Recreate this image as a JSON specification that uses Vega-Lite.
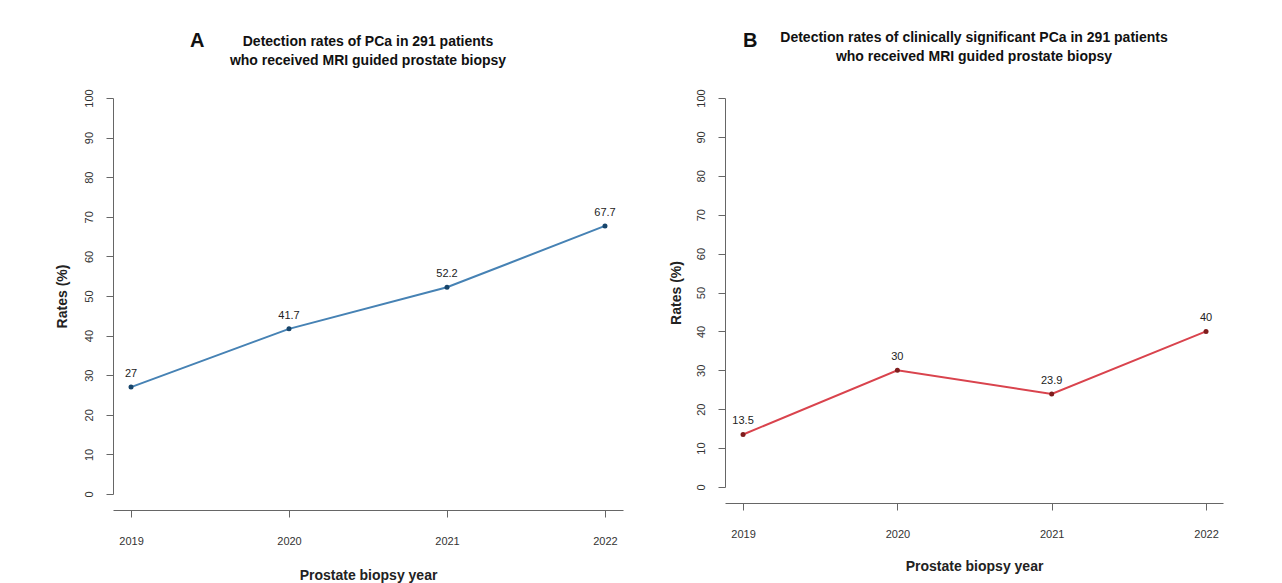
{
  "$schema": "https://vega.github.io/schema/vega-lite/v6.json",
  "autosize": {"type": "none"},
  "padding": {"left": 113, "top": 98, "right": 1169, "bottom": 485},
  "background": "white",
  "spacing": 46,
  "config": {
    "font": "Liberation Sans",
    "view": {"stroke": null},
    "axis": {
      "grid": false,
      "domainColor": "#666",
      "tickColor": "#666",
      "tickSize": 7,
      "labelColor": "#333",
      "labelFont": "Liberation Sans",
      "labelFontSize": 11,
      "labelOverlap": false,
      "titleFont": "Liberation Sans",
      "titleColor": "#222",
      "titleFontSize": 14
    }
  },
  "datasets": {
    "a": [
      {"year": 2019, "rate": 27, "label": "27"},
      {"year": 2020, "rate": 41.7, "label": "41.7"},
      {"year": 2021, "rate": 52.2, "label": "52.2"},
      {"year": 2022, "rate": 67.7, "label": "67.7"}
    ],
    "b": [
      {"year": 2019, "rate": 13.5, "label": "13.5"},
      {"year": 2020, "rate": 30, "label": "30"},
      {"year": 2021, "rate": 23.9, "label": "23.9"},
      {"year": 2022, "rate": 40, "label": "40"}
    ],
    "legA": [{"text": "EAPC +32.4%; 95% CI +25.8 to +39.7, p=0.01"}],
    "legB": [{"text": "EAPC +31.5%; 95% CI +3.86 to +76.7%, p=0.03"}]
  },
  "hconcat": [
    {
      "title": {"text": "A", "fontSize": 20, "fontWeight": "bold", "color": "#111", "anchor": "start", "frame": "group", "dx": 77, "dy": 40, "baseline": "bottom"},
      "vconcat": [
        {
          "width": 510,
          "height": 396,
          "title": {"text": ["Detection rates of PCa in 291 patients", "who received MRI guided prostate biopsy"], "fontSize": 14, "fontWeight": "bold", "color": "#111", "anchor": "middle", "frame": "group", "offset": 7, "lineHeight": 19, "baseline": "bottom"},
          "data": {"name": "a"},
          "encoding": {
            "x": {"field": "year", "type": "quantitative", "scale": {"domain": [2018.886, 2022.114], "nice": false, "zero": false},
                  "axis": {"values": [2019, 2020, 2021, 2022], "format": "d", "title": "Prostate biopsy year", "offset": 16, "labelPadding": 18, "titlePadding": 22}},
            "y": {"field": "rate", "type": "quantitative", "scale": {"domain": [0, 100], "nice": false, "zero": true},
                  "axis": {"values": [0, 10, 20, 30, 40, 50, 60, 70, 80, 90, 100], "tickCount": 11, "labelOverlap": false, "title": "Rates (%)", "labelAngle": -90, "labelPadding": 12, "titlePadding": 14, "titleFontWeight": "bold"}}
          },
          "layer": [
            {"mark": {"type": "line", "color": "#4682b4", "strokeWidth": 2}},
            {"mark": {"type": "point", "filled": true, "size": 25, "color": "#17456b", "opacity": 1}},
            {
              "mark": {"type": "text", "dy": -13, "fontSize": 11, "color": "#222"},
              "encoding": {"text": {"field": "label"}}
            },
            {
              "data": {"name": "legA"},
              "mark": {"type": "point", "filled": true, "size": 25, "color": "#1d5a7a", "opacity": 1},
              "encoding": {"x": {"datum": 2019.07, "type": "quantitative"}, "y": {"datum": 90, "type": "quantitative"}}
            },
            {
              "data": {"name": "legA"},
              "mark": {"type": "text", "align": "left", "baseline": "middle", "fontSize": 11, "color": "#222"},
              "encoding": {"x": {"datum": 2019.12, "type": "quantitative"}, "y": {"datum": 90, "type": "quantitative"}, "text": {"field": "text"}}
            }
          ]
        }
      ]
    },
    {
      "title": {"text": "B", "fontSize": 20, "fontWeight": "bold", "color": "#111", "anchor": "start", "frame": "group", "dx": 18, "dy": 44, "baseline": "bottom"},
      "vconcat": [
        {
          "width": 498,
          "height": 389,
          "title": {"text": ["Detection rates of clinically significant PCa in 291 patients", "who received MRI guided prostate biopsy"], "fontSize": 14, "fontWeight": "bold", "color": "#111", "anchor": "middle", "frame": "group", "offset": 11, "lineHeight": 19, "baseline": "bottom"},
          "data": {"name": "b"},
          "encoding": {
            "x": {"field": "year", "type": "quantitative", "scale": {"domain": [2018.883, 2022.11], "nice": false, "zero": false},
                  "axis": {"values": [2019, 2020, 2021, 2022], "format": "d", "title": "Prostate biopsy year", "offset": 16, "labelPadding": 18, "titlePadding": 20}},
            "y": {"field": "rate", "type": "quantitative", "scale": {"domain": [0, 100], "nice": false, "zero": true},
                  "axis": {"values": [0, 10, 20, 30, 40, 50, 60, 70, 80, 90, 100], "tickCount": 11, "labelOverlap": false, "title": "Rates (%)", "labelAngle": -90, "labelPadding": 12, "titlePadding": 12, "titleFontWeight": "bold"}}
          },
          "layer": [
            {"mark": {"type": "line", "color": "#d9434d", "strokeWidth": 2}},
            {"mark": {"type": "point", "filled": true, "size": 25, "color": "#7f1d1d", "opacity": 1}},
            {
              "mark": {"type": "text", "dy": -13, "fontSize": 11, "color": "#222"},
              "encoding": {"text": {"field": "label"}}
            },
            {
              "data": {"name": "legB"},
              "mark": {"type": "point", "filled": true, "size": 25, "color": "#a01b2b", "opacity": 1},
              "encoding": {"x": {"datum": 2019.078, "type": "quantitative"}, "y": {"datum": 90, "type": "quantitative"}}
            },
            {
              "data": {"name": "legB"},
              "mark": {"type": "text", "align": "left", "baseline": "middle", "fontSize": 11, "color": "#222"},
              "encoding": {"x": {"datum": 2019.13, "type": "quantitative"}, "y": {"datum": 90, "type": "quantitative"}, "text": {"field": "text"}}
            }
          ]
        }
      ]
    }
  ]
}
